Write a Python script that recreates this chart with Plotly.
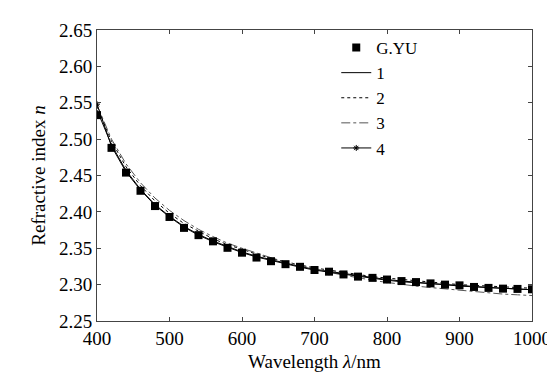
import plotly.graph_objects as go

wavelength = list(range(400, 1001, 20))

gyu = [2.533, 2.488, 2.454, 2.429, 2.408, 2.393, 2.378, 2.368, 2.3595, 2.3506,
       2.3439, 2.3372, 2.3322, 2.3281, 2.3245, 2.3201, 2.3178, 2.3140, 2.3110, 2.3093,
       2.3070, 2.3049, 2.3035, 2.3017, 2.3000, 2.2990, 2.2968, 2.2955, 2.2945, 2.2941,
       2.2936]

curve1 = [2.540, 2.492, 2.457, 2.431, 2.410, 2.394, 2.380, 2.369, 2.360, 2.352,
          2.345, 2.339, 2.334, 2.329, 2.325, 2.321, 2.318, 2.315, 2.312, 2.310,
          2.307, 2.305, 2.303, 2.302, 2.300, 2.299, 2.297, 2.296, 2.295, 2.294,
          2.293]

curve2 = [2.545, 2.497, 2.462, 2.436, 2.415, 2.398, 2.384, 2.373, 2.363, 2.355,
          2.348, 2.342, 2.336, 2.331, 2.327, 2.323, 2.320, 2.317, 2.314, 2.311,
          2.309, 2.307, 2.305, 2.303, 2.302, 2.300, 2.299, 2.298, 2.297, 2.296,
          2.295]

curve3 = [2.547, 2.500, 2.466, 2.440, 2.419, 2.402, 2.388, 2.376, 2.366, 2.357,
          2.350, 2.343, 2.337, 2.331, 2.326, 2.321, 2.317, 2.313, 2.309, 2.306,
          2.303, 2.300, 2.298, 2.296, 2.294, 2.292, 2.290, 2.289, 2.287, 2.286,
          2.285]

curve4 = [2.548, 2.490, 2.455, 2.430, 2.409, 2.393, 2.379, 2.368, 2.359, 2.351,
          2.344, 2.338, 2.333, 2.328, 2.324, 2.320, 2.317, 2.314, 2.311, 2.309,
          2.306, 2.304, 2.303, 2.301, 2.300, 2.298, 2.297, 2.296, 2.295, 2.294,
          2.293]

x_ticks = [400, 500, 600, 700, 800, 900, 1000]
y_ticks = [2.25, 2.30, 2.35, 2.40, 2.45, 2.50, 2.55, 2.60, 2.65]

FONT = "Liberation Serif"

fig = go.Figure()
fig.add_trace(go.Scatter(x=wavelength, y=curve1, mode="lines", name="1", legendrank=2,
                         line=dict(color="black", width=1)))
fig.add_trace(go.Scatter(x=wavelength, y=curve2, mode="lines", name="2", legendrank=3,
                         line=dict(color="black", width=1, dash="dot")))
fig.add_trace(go.Scatter(x=wavelength, y=curve3, mode="lines", name="3", legendrank=4,
                         line=dict(color="#555555", width=1, dash="dashdot")))
fig.add_trace(go.Scatter(x=wavelength, y=curve4, mode="lines+markers", name="4", legendrank=5,
                         line=dict(color="black", width=1),
                         marker=dict(symbol="asterisk", size=5, color="black",
                                     line=dict(color="black", width=1))))
fig.add_trace(go.Scatter(x=wavelength, y=gyu, mode="markers", name="G.YU", legendrank=1,
                         marker=dict(symbol="square", size=8, color="black")))

axis_common = dict(
    showgrid=False, zeroline=False, showline=True, linecolor="#444444", linewidth=1,
    mirror="ticks", ticks="inside", ticklen=4, tickcolor="#444444",
    tickfont=dict(family=FONT, size=19, color="black"),
)

fig.update_layout(
    width=555, height=372,
    margin=dict(l=89, r=24, t=16, b=59),
    paper_bgcolor="white", plot_bgcolor="white",
    font=dict(family=FONT, color="black"),
    showlegend=True,
    legend=dict(x=0.55, y=1.0, xanchor="left", yanchor="top",
                traceorder="normal",
                font=dict(family=FONT, size=17, color="black"),
                bgcolor="rgba(0,0,0,0)", itemwidth=30, tracegroupgap=0),
    xaxis=dict(range=[400, 1000], tickvals=x_ticks,
               ticktext=[str(v) for v in x_ticks],
               title=dict(text="Wavelength <i>λ</i>/nm", standoff=6,
                          font=dict(family=FONT, size=19)),
               **axis_common),
    yaxis=dict(range=[2.25, 2.65], tickvals=y_ticks,
               ticktext=[f"{v:.2f}" for v in y_ticks],
               title=dict(text="Refractive index <i>n</i>", standoff=8,
                          font=dict(family=FONT, size=19)),
               **axis_common),
)

fig.write_html("out.html")
